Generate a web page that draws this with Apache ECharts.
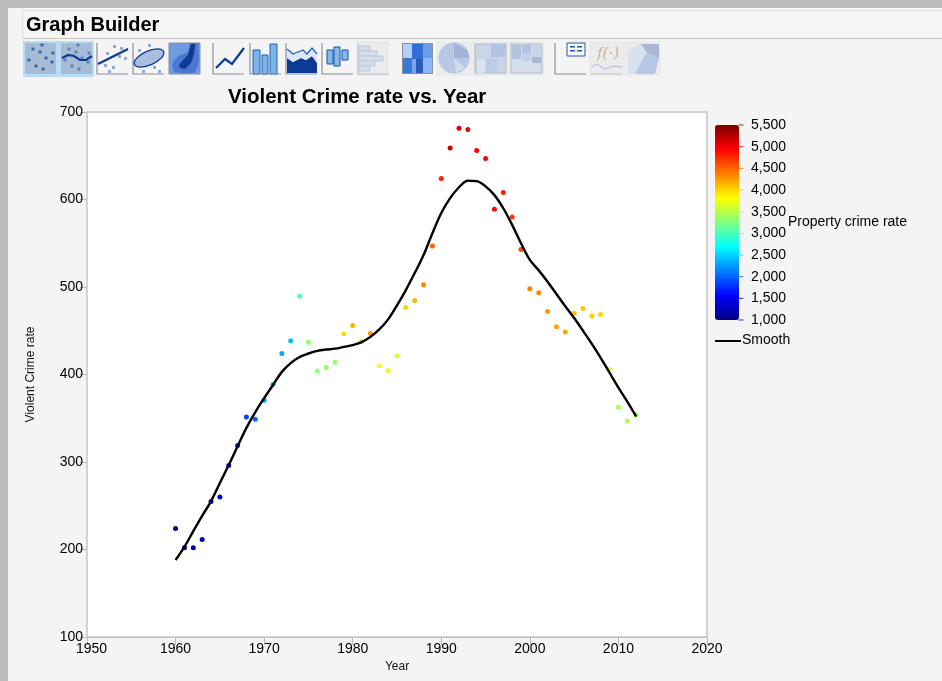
<!DOCTYPE html>
<html><head><meta charset="utf-8">
<style>html,body{margin:0;padding:0;background:#f4f4f4}#c{width:942px;height:681px}</style>
<script src="https://cdn.jsdelivr.net/npm/echarts@6/dist/echarts.min.js"></script>
</head><body><div id="c"></div>
<script>
const years=[1960,1961,1962,1963,1964,1965,1966,1967,1968,1969,1970,1971,1972,1973,1974,1975,1976,1977,1978,1979,1980,1981,1982,1983,1984,1985,1986,1987,1988,1989,1990,1991,1992,1993,1994,1995,1996,1997,1998,1999,2000,2001,2002,2003,2004,2005,2006,2007,2008,2009,2010,2011,2012];
const violentRate=[224,202,202,211.5,255,260,296,319,351.5,349,370.5,388.5,424,438.5,489.5,437,404,408,414,446.5,456,437.5,447,410,404.5,421.5,476.5,484.5,502.5,547,624,659,681.5,680,656,647,589,608,580,543,498,493.5,472,454.5,448.5,470,475.5,467,468.5,406,363,347,354];
const propertyRate=[1150,1150,1160,1180,1350,1380,1550,1650,1850,2050,2250,2350,2300,2400,3050,3320,3320,3330,3340,3950,4150,4050,4250,3800,3650,3650,3990,4130,4350,4500,4800,5150,5100,4980,4970,4950,4900,4820,4700,4600,4370,4360,4250,4220,4190,4100,4060,4020,4000,3720,3430,3420,3350];
const smoothRate=[188,203,221,238.5,255,276,296.5,318,339,357,373,388,403,413,420,424,427,428.5,429.5,431.5,433.5,437,443,451.5,463,479,496.5,516,536.5,561.5,584.5,601.5,614,621.5,621,615,605,590,571,550,531,519,506,492,478,464.5,450,435,419,402,385,369,352];
const jetColors=['#00007f','#0000ff','#007fff','#00ffff','#7fff7f','#ffff00','#ff7f00','#ff0000','#7f0000'];
const colorTicks=[1000,1500,2000,2500,3000,3500,4000,4500,5000,5500];
const titleText='Violent Crime rate vs. Year';
const font='"Liberation Sans",Arial,sans-serif';

const el=[];
const R=(x,y,w,h,fill,stroke,z)=>el.push({type:'rect',z:z||1,shape:{x,y,width:w,height:h},style:{fill:fill||'none',stroke:stroke||null,lineWidth:stroke?1:0}});
const P=(pts,stroke,w)=>el.push({type:'polyline',z:2,shape:{points:pts},style:{fill:'none',stroke,lineWidth:w||1}});
const G=(pts,fill)=>el.push({type:'polygon',z:2,shape:{points:pts},style:{fill}});
const C=(cx,cy,r,fill,stroke)=>el.push({type:'circle',z:2,shape:{cx,cy,r},style:{fill,stroke:stroke||null,lineWidth:stroke?1.5:0}});
const T=(x,y,text,f,extra)=>el.push({type:'text',z:3,x,y,style:Object.assign({text,font:f,fill:'#000',textVerticalAlign:'middle'},extra||{})});
const axes=(x,y,c)=>{P([[x,y],[x,y+31],[x+31,y+31]],c||'#8a9096',1.2)};

// window frame
R(0,0,942,8,'#bdbdbd');R(0,0,8,681,'#bdbdbd');
R(22,10,920,1.5,'#dedede');R(22,11,920,27,'#f5f5f5');R(22,38,920,1,'#c9c9c9');R(22,11,1,27,'#dedede');
T(26,25,'Graph Builder','bold 20px '+font);
// toolbar
R(23,41,71,36,'#b8dcf8');
R(25,43,31,31,'#a6bbd4');R(61,43,31,31,'#a6bbd4');
const dots=[[42,45],[33,49],[53,53],[29,60],[46,58],[36,66],[43,69],[52,62],[40,52]];
dots.forEach(d=>R(d[0]-1.5,d[1]-1.5,3,3,'#3a66b0'));
dots.forEach(d=>R(d[0]+34.5,d[1]-1.5,3,3,'#5a82bc'));
P([[62,58],[68,55],[74,56],[80,60],[86,60],[92,56]],'#0d3a94',2.2);
axes(97,43);[[113,45],[120,47],[106,52],[118,55],[124,57],[104,64],[112,66],[108,70]].forEach(d=>R(d[0],d[1],3,3,'#8fa8d6'));
P([[98,64],[128,49]],'#0d3a94',2.2);
axes(133,43);[[148,44],[138,49],[158,54],[144,53],[153,66],[158,70],[142,70]].forEach(d=>R(d[0],d[1],3,3,'#8fa8d6'));
el.push({type:'ellipse',z:2,rotation:0.42,originX:149,originY:58,shape:{cx:149,cy:58,rx:16,ry:7},style:{fill:'#a8bedf',stroke:'#0d3a94',lineWidth:1.3}});
R(169,43,31,31,'#6f9ae0','#8a9096');
G([[181,73],[195,73],[199,62],[198,43],[190,43],[188,52],[178,56],[172,64],[174,72]],'#4a78cf');
G([[179,65],[183,60],[188,55],[191,44],[195,44],[194,54],[191,63],[185,69],[180,68]],'#0d3a94');
axes(213,43);P([[216,68],[225,59],[232,64],[244,48]],'#0d3a94',2.2);
axes(250,43);[[253,50,7,24],[262,55,6,19],[270,44,7,30]].forEach(b=>R(b[0],b[1],b[2],b[3],'#7fb0e6','#1a66b8'));
axes(286,43);G([[287,73],[287,58],[293,62],[301,58],[306,60],[312,56],[317,63],[317,73]],'#0d3a94');
G([[287,58],[287,49],[293,54],[298,52],[303,50],[307,54],[312,48],[317,54],[317,63],[312,56],[306,60],[301,58],[293,62]],'#dce6f4');
P([[287,49],[293,54],[298,52],[303,50],[307,54],[312,48],[317,54]],'#1a66b8',1.3);
axes(322,43);[[327,50,6,14],[334,47,6,19],[342,50,6,10]].forEach(b=>{R(b[0],b[1],b[2],b[3],'#8cb8e6','#0d52a4');});
R(356,41,33,35,'#ebebeb');P([[358,43],[358,74],[389,74]],'#b9bec4',1);
[[359,46,11,5],[359,51,18,5],[359,56,24,5],[359,61,16,5],[359,66,11,5]].forEach(b=>R(b[0],b[1],b[2],b[3],'#d3deea','#bccbdd'));
R(402,43,31,31,'#8a9096');
[['#b4cdfa','#2f6fd6','#7ea9ea'],['#3a78d8','#79a3ea','#2a5cb8'],['#8fb6f5','#2f6fd6','#8fb6f5']];
[[403,44,9,14,'#b4cdfa'],[412,44,11,15,'#2f6fd6'],[423,44,9,14,'#6f9ae6'],[403,58,9,15,'#3a78d8'],[412,59,11,14,'#79a3ea'],[423,58,9,15,'#8fb6f5'],[416,59,7,14,'#2a5cb8']].forEach(b=>R(b[0],b[1],b[2],b[3],b[4]));
R(436,41,108,35,'#ebebeb');
C(454,58,15.5,'#b8c7e4');
G([[454,58],[454,43],[467,50],[469,58]],'#a3b4d8');G([[454,58],[465,68],[456,73]],'#d0dcee');
R(475,44,31,29,'#c9d5ea','#b5b8bc');R(491,44,15,13,'#b3c3e2');R(477,59,8,14,'#dbe4f2');R(486,59,11,13,'#bccbe6');
R(511,44,31,29,'#d3deef','#b5b8bc');R(512,45,9,14,'#b0c2e0');R(522,45,9,8,'#b0c2e0');R(532,45,9,12,'#c7d4ea');R(522,53,9,8,'#c2d0e8');R(532,57,9,6,'#a8b8d4');
axes(555,43);R(567,43,18,13,'#f7f9ff','#24549e');[[570,46],[570,50],[577,46],[577,50]].forEach(d=>R(d[0],d[1],5,1.5,'#24549e'));
R(589,41,72,35,'#ebebeb');
T(597,54,'f(·)','italic 15px "DejaVu Serif",serif',{fill:'#c8b894'});
P([[591,67],[597,64],[605,69],[613,66],[622,67]],'#b8c8e4',1.3);P([[591,74],[622,74]],'#c0c4c8',1);
G([[632,48],[641,44],[647,53],[642,60],[635,74],[628,73],[628,52]],'#d8e2ee');
G([[641,44],[659,44],[659,58],[647,53]],'#aab8d6');G([[642,60],[647,53],[659,58],[655,74],[635,74]],'#b5c6e6');
// legend annotations
T(788,222,'Property crime rate','14px '+font);
P([[715,341],[741,341]],'#000',2);
T(742,340,'Smooth','14px '+font);
T(228,97,titleText,'bold 20.5px '+font);

const chart=echarts.init(document.getElementById('c'),null,{renderer:'canvas'});
const axisGrey='#b8b8b8';
chart.setOption({
 animation:false,backgroundColor:'#f4f4f4',
 grid:[{left:87,top:112,width:620,height:525,show:true,backgroundColor:'#fff',borderColor:'#c6c6c6',borderWidth:1.5,z:2},
       {left:715,top:125,width:24,height:195,show:false}],
 xAxis:[{type:'value',min:1950,max:2020,interval:10,name:'Year',nameLocation:'middle',nameGap:22,
   nameTextStyle:{fontFamily:font,fontSize:12,color:'#111'},
   axisLine:{lineStyle:{color:axisGrey,width:1}},axisTick:{length:8,lineStyle:{color:axisGrey}},splitLine:{show:false},
   axisLabel:{margin:5,fontFamily:font,fontSize:14,color:'#000',
     formatter:v=>v===1950?'{a|1950}':String(v),rich:{a:{fontFamily:font,fontSize:14,color:'#000',padding:[0,0,0,9]}}}},
  {gridIndex:1,type:'value',min:0,max:1,show:false}],
 yAxis:[{type:'value',min:100,max:700,interval:100,name:'Violent Crime rate',nameLocation:'middle',nameGap:50,
   nameTextStyle:{fontFamily:font,fontSize:12,color:'#111'},
   axisLine:{lineStyle:{color:axisGrey,width:1}},axisTick:{length:7,lineStyle:{color:axisGrey}},splitLine:{show:false},
   axisLabel:{margin:4,fontFamily:font,fontSize:14,color:'#000'}},
  {gridIndex:1,type:'value',min:1000,max:5500,interval:500,position:'right',
   axisLine:{show:false},axisTick:{show:false},splitLine:{show:false},
   axisLabel:{margin:12,fontFamily:font,fontSize:14,color:'#000',showMinLabel:true,showMaxLabel:true}}],
 visualMap:[{type:'continuous',seriesIndex:[0,2],dimension:2,min:1000,max:5500,calculable:false,hoverLink:false,
   left:715,top:125,itemWidth:24,itemHeight:195,padding:0,text:null,inRange:{color:jetColors},borderWidth:0}],
 series:[
  {type:'scatter',name:'Property crime rate',symbolSize:5,z:3,itemStyle:{opacity:1},
   data:years.map((y,i)=>[y,violentRate[i],propertyRate[i]])},
  {type:'line',name:'Smooth',smooth:0.35,showSymbol:false,z:4,lineStyle:{color:'#000',width:2.4},itemStyle:{color:'#000'},
   data:years.map((y,i)=>[y,smoothRate[i]])},
  {type:'scatter',xAxisIndex:1,yAxisIndex:1,silent:true,symbol:'rect',symbolSize:[5,1],symbolOffset:[2,0],z:5,
   data:colorTicks.map(v=>[1,v,v])}
 ],
 graphic:{elements:el}
});
</script></body></html>
